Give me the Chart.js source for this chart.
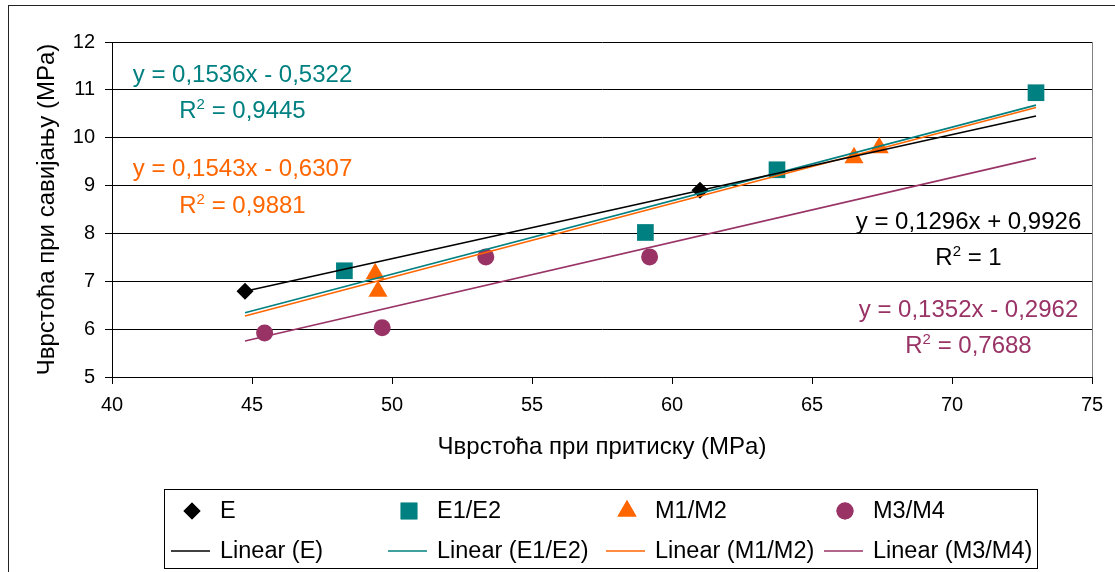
<!DOCTYPE html>
<html><head><meta charset="utf-8">
<script src="https://cdn.jsdelivr.net/npm/chart.js@4.4.1/dist/chart.umd.min.js"></script>
<style>html,body{margin:0;padding:0;background:#fff;}</style>
</head><body>
<canvas id="c" width="1115" height="572"></canvas>
<script>
// ---- data ----
const seriesNames = ['E', 'E1/E2', 'M1/M2', 'M3/M4'];
const seriesColors = ['#000000', '#008080', '#FF6600', '#993366'];
const eX = [44.75, 61.0];
const eY = [6.79, 8.90];
const e12X = [48.3, 59.05, 63.75, 73.0];
const e12Y = [7.22, 8.02, 9.33, 10.94];
const m12X = [49.4, 49.5, 66.5, 67.4];
const m12Y = [7.16, 6.79, 9.58, 9.79];
const m34X = [45.45, 49.65, 53.35, 59.2];
const m34Y = [5.92, 6.03, 7.51, 7.51];
const trendSlopes = [0.1296, 0.1536, 0.1543, 0.1352];
const trendIntercepts = [0.9926, -0.5322, -0.6307, -0.2962];
const trendXRange = [44.75, 73.0];
const eqTexts = ['y = 0,1296x + 0,9926', 'y = 0,1536x - 0,5322', 'y = 0,1543x - 0,6307', 'y = 0,1352x - 0,2962'];
const r2Values = ['1', '0,9445', '0,9881', '0,7688'];
const xTicks = [40, 45, 50, 55, 60, 65, 70, 75];
const yTicks = [5, 6, 7, 8, 9, 10, 11, 12];
const xTitle = 'Чврстоћа при притиску (MPa)';
const yTitle = 'Чврстоћа при савијању (MPa)';

const FONT = "'Liberation Sans', Arial, sans-serif";
Chart.defaults.font.family = FONT;
Chart.defaults.color = '#000';

const pts = (xs, ys) => xs.map((x, i) => ({x: x, y: ys[i]}));
const pointSets = [pts(eX, eY), pts(e12X, e12Y), pts(m12X, m12Y), pts(m34X, m34Y)];
const styles = [
  {pointStyle: 'rectRot', radius: 8.5},
  {pointStyle: 'rect', radius: 11.8},
  {pointStyle: 'triangle', radius: 11},
  {pointStyle: 'circle', radius: 8.5}
];

const datasets = [];
seriesNames.forEach((n, i) => {
  datasets.push({
    label: n, data: pointSets[i], showLine: false,
    pointStyle: styles[i].pointStyle, pointRadius: styles[i].radius, pointHoverRadius: styles[i].radius,
    backgroundColor: seriesColors[i], borderColor: seriesColors[i], pointBorderWidth: 0, order: 2
  });
});
seriesNames.forEach((n, i) => {
  datasets.push({
    label: 'Linear (' + n + ')',
    data: trendXRange.map(x => ({x: x, y: trendSlopes[i] * x + trendIntercepts[i]})),
    showLine: true, pointRadius: 0, borderColor: seriesColors[i], borderWidth: 1.6,
    backgroundColor: seriesColors[i], order: 1
  });
});

// equation label layout: [centerX, eqBaseline, r2Baseline]
const eqPos = [[968.5, 228.5, 265], [242.5, 81.5, 118], [242.5, 176, 212.5], [968.5, 317, 353]];

const decor = {
  id: 'decor',
  beforeDraw(chart) {
    const ctx = chart.ctx;
    ctx.save();
    ctx.fillStyle = '#fff';
    ctx.fillRect(0, 0, chart.width, chart.height);
    ctx.strokeStyle = '#222';
    ctx.lineWidth = 1;
    ctx.strokeRect(8.5, 5.5, 1200, 700);
    ctx.restore();
  },
  afterDraw(chart) {
    const ctx = chart.ctx;
    const a = chart.chartArea;
    ctx.save();
    // plot right border
    ctx.strokeStyle = '#808080';
    ctx.lineWidth = 1;
    ctx.beginPath();
    ctx.moveTo(Math.round(a.right) + 0.5, a.top);
    ctx.lineTo(Math.round(a.right) + 0.5, a.bottom);
    ctx.stroke();
    // equations
    ctx.textBaseline = 'alphabetic';
    eqTexts.forEach((t, i) => {
      const [cx, yb, rb] = eqPos[i];
      ctx.fillStyle = seriesColors[i];
      ctx.font = '24px ' + FONT;
      ctx.textAlign = 'center';
      ctx.fillText(t, cx, yb);
      ctx.textAlign = 'left';
      const big = '24px ' + FONT, small = '15px ' + FONT;
      ctx.font = big; const wR = ctx.measureText('R').width;
      const rest = ' = ' + r2Values[i]; const wRest = ctx.measureText(rest).width;
      ctx.font = small; const w2 = ctx.measureText('2').width;
      let x0 = cx - (wR + w2 + wRest) / 2;
      ctx.font = big; ctx.fillText('R', x0, rb);
      ctx.font = small; ctx.fillText('2', x0 + wR, rb - 9);
      ctx.font = big; ctx.fillText(rest, x0 + wR + w2, rb);
    });
    // legend
    const L = {left: 164, top: 489, right: 1037, bottom: 568};
    ctx.strokeStyle = '#000';
    ctx.lineWidth = 1;
    ctx.strokeRect(L.left + 0.5, L.top + 0.5, L.right - L.left, L.bottom - L.top);
    const colX = [220, 437, 655, 873];
    const row1 = 511, row2 = 551;
    ctx.font = '23.5px ' + FONT;
    ctx.textAlign = 'left';
    ctx.textBaseline = 'middle';
    chart.data.datasets.forEach((ds, k) => {
      const col = k % 4, row = Math.floor(k / 4);
      const tx = colX[col];
      if (row === 0) {
        ctx.fillStyle = ds.backgroundColor;
        Chart.helpers.drawPoint(ctx, {pointStyle: ds.pointStyle, radius: ds.pointRadius, rotation: 0, borderWidth: 0}, tx - 28, row1);
        ctx.fill();
        ctx.fillStyle = '#000';
        ctx.fillText(ds.label, tx, row1 + 1);
      } else {
        ctx.strokeStyle = ds.borderColor;
        ctx.lineWidth = 1.6;
        ctx.beginPath(); ctx.moveTo(tx - 49, row2); ctx.lineTo(tx - 10, row2); ctx.stroke();
        ctx.fillStyle = '#000';
        ctx.fillText(ds.label, tx, row2 + 1);
      }
    });
    ctx.restore();
  }
};

new Chart(document.getElementById('c'), {
  type: 'scatter',
  data: {datasets: datasets},
  options: {
    responsive: false, animation: false, devicePixelRatio: 1,
    layout: {padding: {left: 0, top: 42, right: 23, bottom: 0}},
    plugins: {legend: {display: false}, tooltip: {enabled: false}},
    scales: {
      x: {
        type: 'linear', min: 40, max: 75,
        afterFit: s => { s.height = 195; },
        afterBuildTicks: s => { s.ticks = xTicks.map(v => ({value: v})); },
        ticks: {font: {size: 20}, padding: 9, color: '#000', maxRotation: 0},
        grid: {drawOnChartArea: false, drawTicks: true, tickLength: 7, color: '#000', lineWidth: 1},
        border: {color: '#000', width: 1},
        title: {display: true, text: xTitle, font: {size: 24}, color: '#000', padding: {bottom: 110, top: 0}}
      },
      y: {
        type: 'linear', min: 5, max: 12,
        afterFit: s => { s.width = 112; },
        afterBuildTicks: s => { s.ticks = yTicks.map(v => ({value: v})); },
        ticks: {font: {size: 20}, padding: 10, color: '#000'},
        grid: {drawOnChartArea: true, drawTicks: true, tickLength: 7, color: '#000', lineWidth: 1},
        border: {color: '#000', width: 1},
        title: {display: true, text: yTitle, font: {size: 24}, color: '#000', padding: {top: 33, bottom: 0}}
      }
    }
  },
  plugins: [decor]
});
</script>
</body></html>
